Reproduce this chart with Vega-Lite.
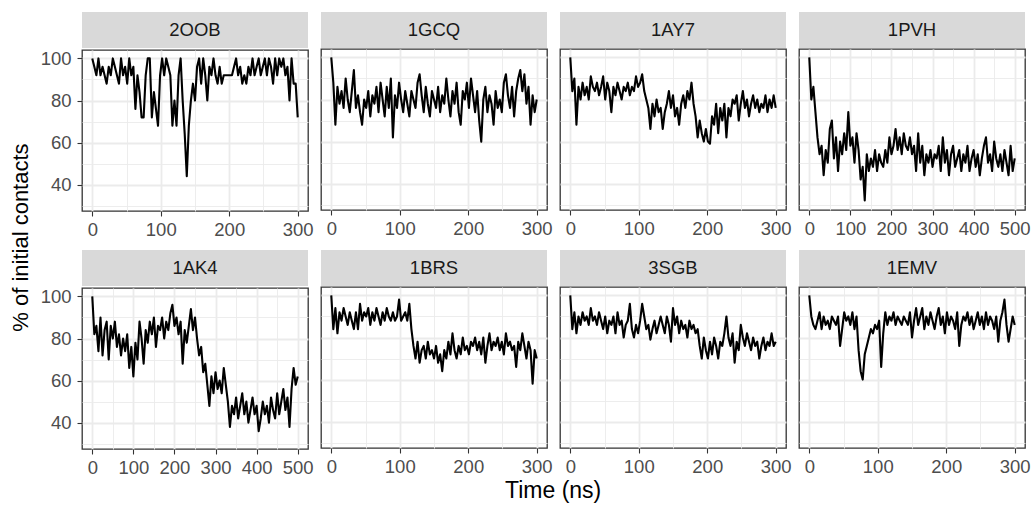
{
"$schema":"https://vega.github.io/schema/vega-lite/v6.json",
"padding":{"left":10,"top":12,"right":2,"bottom":2},
"title":{"text":"% of initial contacts","orient":"left","anchor":"middle","fontSize":22,"fontWeight":"normal","color":"#000000","offset":6,"dx":20},
"datasets":{
"d2OOB":[{"t":0,"v":100},{"t":3,"v":96},{"t":6,"v":92},{"t":9,"v":100},{"t":12,"v":92},{"t":15,"v":96},{"t":18,"v":92},{"t":21,"v":88},{"t":24,"v":96},{"t":27,"v":92},{"t":30,"v":100},{"t":33,"v":96},{"t":36,"v":92},{"t":39,"v":88},{"t":42,"v":100},{"t":45,"v":92},{"t":48,"v":96},{"t":51,"v":88},{"t":54,"v":100},{"t":57,"v":92},{"t":60,"v":96},{"t":63,"v":76},{"t":66,"v":92},{"t":69,"v":84},{"t":72,"v":72},{"t":75,"v":72},{"t":78,"v":92},{"t":81,"v":100},{"t":84,"v":100},{"t":87,"v":72},{"t":90,"v":84},{"t":93,"v":76},{"t":96,"v":68},{"t":99,"v":92},{"t":102,"v":100},{"t":105,"v":92},{"t":108,"v":100},{"t":111,"v":96},{"t":114,"v":92},{"t":117,"v":68},{"t":120,"v":80},{"t":123,"v":68},{"t":126,"v":92},{"t":129,"v":100},{"t":132,"v":80},{"t":135,"v":64},{"t":138,"v":44},{"t":141,"v":68},{"t":144,"v":80},{"t":147,"v":88},{"t":150,"v":80},{"t":153,"v":96},{"t":156,"v":100},{"t":159,"v":88},{"t":162,"v":100},{"t":165,"v":92},{"t":168,"v":80},{"t":171,"v":96},{"t":174,"v":92},{"t":177,"v":100},{"t":180,"v":92},{"t":183,"v":88},{"t":186,"v":96},{"t":189,"v":88},{"t":192,"v":92},{"t":195,"v":92},{"t":198,"v":92},{"t":201,"v":92},{"t":204,"v":92},{"t":207,"v":96},{"t":210,"v":100},{"t":213,"v":92},{"t":216,"v":96},{"t":219,"v":88},{"t":222,"v":92},{"t":225,"v":88},{"t":228,"v":96},{"t":231,"v":92},{"t":234,"v":100},{"t":237,"v":92},{"t":240,"v":96},{"t":243,"v":100},{"t":246,"v":92},{"t":249,"v":96},{"t":252,"v":100},{"t":255,"v":92},{"t":258,"v":100},{"t":261,"v":96},{"t":264,"v":88},{"t":267,"v":100},{"t":270,"v":92},{"t":273,"v":100},{"t":276,"v":96},{"t":279,"v":100},{"t":282,"v":92},{"t":285,"v":96},{"t":288,"v":80},{"t":291,"v":100},{"t":294,"v":88},{"t":297,"v":88},{"t":300,"v":72}],
"d1GCQ":[{"t":0,"v":100},{"t":3,"v":88},{"t":6,"v":68},{"t":9,"v":86},{"t":12,"v":78},{"t":15,"v":84},{"t":18,"v":76},{"t":21,"v":90},{"t":24,"v":80},{"t":27,"v":74},{"t":30,"v":84},{"t":33,"v":94},{"t":36,"v":76},{"t":39,"v":82},{"t":42,"v":74},{"t":45,"v":68},{"t":48,"v":80},{"t":51,"v":76},{"t":54,"v":84},{"t":57,"v":72},{"t":60,"v":82},{"t":63,"v":78},{"t":66,"v":86},{"t":69,"v":74},{"t":72,"v":88},{"t":75,"v":80},{"t":78,"v":72},{"t":81,"v":86},{"t":84,"v":76},{"t":87,"v":90},{"t":90,"v":62},{"t":93,"v":82},{"t":96,"v":76},{"t":99,"v":88},{"t":102,"v":80},{"t":105,"v":74},{"t":108,"v":84},{"t":111,"v":78},{"t":114,"v":72},{"t":117,"v":84},{"t":120,"v":80},{"t":123,"v":76},{"t":126,"v":88},{"t":129,"v":92},{"t":132,"v":82},{"t":135,"v":74},{"t":138,"v":86},{"t":141,"v":78},{"t":144,"v":72},{"t":147,"v":84},{"t":150,"v":80},{"t":153,"v":76},{"t":156,"v":86},{"t":159,"v":74},{"t":162,"v":82},{"t":165,"v":78},{"t":168,"v":90},{"t":171,"v":80},{"t":174,"v":72},{"t":177,"v":84},{"t":180,"v":78},{"t":183,"v":88},{"t":186,"v":74},{"t":189,"v":68},{"t":192,"v":84},{"t":195,"v":80},{"t":198,"v":88},{"t":201,"v":76},{"t":204,"v":90},{"t":207,"v":82},{"t":210,"v":74},{"t":213,"v":84},{"t":216,"v":70},{"t":219,"v":60},{"t":222,"v":80},{"t":225,"v":86},{"t":228,"v":74},{"t":231,"v":82},{"t":234,"v":78},{"t":237,"v":68},{"t":240,"v":84},{"t":243,"v":76},{"t":246,"v":80},{"t":249,"v":74},{"t":252,"v":88},{"t":255,"v":92},{"t":258,"v":82},{"t":261,"v":76},{"t":264,"v":86},{"t":267,"v":72},{"t":270,"v":84},{"t":273,"v":90},{"t":276,"v":94},{"t":279,"v":84},{"t":282,"v":92},{"t":285,"v":78},{"t":288,"v":86},{"t":291,"v":68},{"t":294,"v":82},{"t":297,"v":74},{"t":300,"v":80}],
"d1AY7":[{"t":0,"v":100},{"t":3,"v":84},{"t":6,"v":90},{"t":9,"v":68},{"t":12,"v":86},{"t":15,"v":80},{"t":18,"v":88},{"t":21,"v":82},{"t":24,"v":86},{"t":27,"v":80},{"t":30,"v":91},{"t":33,"v":86},{"t":36,"v":84},{"t":39,"v":88},{"t":42,"v":82},{"t":45,"v":86},{"t":48,"v":91},{"t":51,"v":80},{"t":54,"v":88},{"t":57,"v":84},{"t":60,"v":74},{"t":63,"v":86},{"t":66,"v":82},{"t":69,"v":88},{"t":72,"v":84},{"t":75,"v":80},{"t":78,"v":86},{"t":81,"v":84},{"t":84,"v":88},{"t":87,"v":82},{"t":90,"v":86},{"t":93,"v":84},{"t":96,"v":91},{"t":99,"v":86},{"t":102,"v":88},{"t":105,"v":92},{"t":108,"v":84},{"t":111,"v":80},{"t":114,"v":76},{"t":117,"v":66},{"t":120,"v":78},{"t":123,"v":72},{"t":126,"v":80},{"t":129,"v":74},{"t":132,"v":76},{"t":135,"v":66},{"t":138,"v":74},{"t":141,"v":78},{"t":144,"v":84},{"t":147,"v":76},{"t":150,"v":82},{"t":153,"v":72},{"t":156,"v":76},{"t":159,"v":68},{"t":162,"v":78},{"t":165,"v":82},{"t":168,"v":76},{"t":171,"v":84},{"t":174,"v":80},{"t":177,"v":88},{"t":180,"v":78},{"t":183,"v":72},{"t":186,"v":62},{"t":189,"v":70},{"t":192,"v":64},{"t":195,"v":60},{"t":198,"v":66},{"t":201,"v":60},{"t":204,"v":59},{"t":207,"v":72},{"t":210,"v":68},{"t":213,"v":78},{"t":216,"v":64},{"t":219,"v":76},{"t":222,"v":70},{"t":225,"v":78},{"t":228,"v":62},{"t":231,"v":76},{"t":234,"v":72},{"t":237,"v":80},{"t":240,"v":78},{"t":243,"v":82},{"t":246,"v":70},{"t":249,"v":78},{"t":252,"v":84},{"t":255,"v":76},{"t":258,"v":80},{"t":261,"v":72},{"t":264,"v":78},{"t":267,"v":82},{"t":270,"v":76},{"t":273,"v":80},{"t":276,"v":74},{"t":279,"v":78},{"t":282,"v":76},{"t":285,"v":82},{"t":288,"v":74},{"t":291,"v":80},{"t":294,"v":76},{"t":297,"v":82},{"t":300,"v":76}],
"d1PVH":[{"t":0,"v":100},{"t":5,"v":80},{"t":10,"v":86},{"t":15,"v":74},{"t":20,"v":62},{"t":25,"v":54},{"t":30,"v":58},{"t":35,"v":44},{"t":40,"v":56},{"t":45,"v":50},{"t":50,"v":66},{"t":55,"v":70},{"t":60,"v":52},{"t":65,"v":62},{"t":70,"v":46},{"t":75,"v":60},{"t":80,"v":54},{"t":85,"v":64},{"t":90,"v":56},{"t":95,"v":74},{"t":100,"v":58},{"t":105,"v":62},{"t":110,"v":50},{"t":115,"v":64},{"t":120,"v":56},{"t":125,"v":42},{"t":130,"v":48},{"t":135,"v":32},{"t":140,"v":54},{"t":145,"v":46},{"t":150,"v":52},{"t":155,"v":48},{"t":160,"v":56},{"t":165,"v":46},{"t":170,"v":54},{"t":175,"v":50},{"t":180,"v":48},{"t":185,"v":56},{"t":190,"v":50},{"t":195,"v":62},{"t":200,"v":54},{"t":205,"v":58},{"t":210,"v":66},{"t":215,"v":56},{"t":220,"v":62},{"t":225,"v":54},{"t":230,"v":64},{"t":235,"v":58},{"t":240,"v":56},{"t":245,"v":62},{"t":250,"v":54},{"t":255,"v":58},{"t":260,"v":46},{"t":265,"v":64},{"t":270,"v":50},{"t":275,"v":58},{"t":280,"v":44},{"t":285,"v":54},{"t":290,"v":50},{"t":295,"v":56},{"t":300,"v":48},{"t":305,"v":54},{"t":310,"v":52},{"t":315,"v":58},{"t":320,"v":46},{"t":325,"v":62},{"t":330,"v":50},{"t":335,"v":56},{"t":340,"v":44},{"t":345,"v":54},{"t":350,"v":58},{"t":355,"v":48},{"t":360,"v":52},{"t":365,"v":56},{"t":370,"v":46},{"t":375,"v":54},{"t":380,"v":50},{"t":385,"v":58},{"t":390,"v":46},{"t":395,"v":52},{"t":400,"v":56},{"t":405,"v":48},{"t":410,"v":54},{"t":415,"v":44},{"t":420,"v":52},{"t":425,"v":58},{"t":430,"v":62},{"t":435,"v":50},{"t":440,"v":54},{"t":445,"v":46},{"t":450,"v":60},{"t":455,"v":52},{"t":460,"v":48},{"t":465,"v":54},{"t":470,"v":46},{"t":475,"v":56},{"t":480,"v":50},{"t":485,"v":44},{"t":490,"v":58},{"t":495,"v":46},{"t":500,"v":52}],
"d1AK4":[{"t":0,"v":100},{"t":5,"v":82},{"t":10,"v":86},{"t":15,"v":74},{"t":20,"v":90},{"t":25,"v":72},{"t":30,"v":84},{"t":35,"v":88},{"t":40,"v":70},{"t":45,"v":86},{"t":50,"v":80},{"t":55,"v":88},{"t":60,"v":76},{"t":65,"v":82},{"t":70,"v":72},{"t":75,"v":80},{"t":80,"v":74},{"t":85,"v":82},{"t":90,"v":66},{"t":95,"v":76},{"t":100,"v":62},{"t":105,"v":78},{"t":110,"v":70},{"t":115,"v":88},{"t":120,"v":80},{"t":125,"v":68},{"t":130,"v":84},{"t":135,"v":78},{"t":140,"v":88},{"t":145,"v":82},{"t":150,"v":90},{"t":155,"v":76},{"t":160,"v":86},{"t":165,"v":84},{"t":170,"v":90},{"t":175,"v":80},{"t":180,"v":88},{"t":185,"v":84},{"t":190,"v":92},{"t":195,"v":96},{"t":200,"v":86},{"t":205,"v":90},{"t":210,"v":82},{"t":215,"v":88},{"t":220,"v":68},{"t":225,"v":84},{"t":230,"v":78},{"t":235,"v":86},{"t":240,"v":94},{"t":245,"v":84},{"t":250,"v":90},{"t":255,"v":80},{"t":260,"v":72},{"t":265,"v":76},{"t":270,"v":64},{"t":275,"v":68},{"t":280,"v":58},{"t":285,"v":48},{"t":290,"v":62},{"t":295,"v":54},{"t":300,"v":64},{"t":305,"v":56},{"t":310,"v":60},{"t":315,"v":54},{"t":320,"v":66},{"t":325,"v":58},{"t":330,"v":50},{"t":335,"v":38},{"t":340,"v":48},{"t":345,"v":44},{"t":350,"v":52},{"t":355,"v":42},{"t":360,"v":48},{"t":365,"v":54},{"t":370,"v":44},{"t":375,"v":50},{"t":380,"v":40},{"t":385,"v":46},{"t":390,"v":52},{"t":395,"v":44},{"t":400,"v":48},{"t":405,"v":36},{"t":410,"v":42},{"t":415,"v":50},{"t":420,"v":44},{"t":425,"v":48},{"t":430,"v":40},{"t":435,"v":52},{"t":440,"v":46},{"t":445,"v":42},{"t":450,"v":54},{"t":455,"v":44},{"t":460,"v":50},{"t":465,"v":56},{"t":470,"v":46},{"t":475,"v":52},{"t":480,"v":38},{"t":485,"v":56},{"t":490,"v":66},{"t":495,"v":58},{"t":500,"v":62}],
"d1BRS":[{"t":0,"v":100},{"t":3,"v":84},{"t":6,"v":94},{"t":9,"v":82},{"t":12,"v":92},{"t":15,"v":88},{"t":18,"v":94},{"t":21,"v":90},{"t":24,"v":86},{"t":27,"v":92},{"t":30,"v":88},{"t":33,"v":84},{"t":36,"v":92},{"t":39,"v":84},{"t":42,"v":96},{"t":45,"v":88},{"t":48,"v":92},{"t":51,"v":90},{"t":54,"v":94},{"t":57,"v":86},{"t":60,"v":92},{"t":63,"v":88},{"t":66,"v":94},{"t":69,"v":90},{"t":72,"v":86},{"t":75,"v":92},{"t":78,"v":88},{"t":81,"v":94},{"t":84,"v":90},{"t":87,"v":88},{"t":90,"v":92},{"t":93,"v":88},{"t":96,"v":90},{"t":99,"v":98},{"t":102,"v":88},{"t":105,"v":90},{"t":108,"v":92},{"t":111,"v":88},{"t":114,"v":96},{"t":117,"v":84},{"t":120,"v":76},{"t":123,"v":70},{"t":126,"v":78},{"t":129,"v":68},{"t":132,"v":74},{"t":135,"v":76},{"t":138,"v":70},{"t":141,"v":78},{"t":144,"v":72},{"t":147,"v":74},{"t":150,"v":70},{"t":153,"v":76},{"t":156,"v":68},{"t":159,"v":72},{"t":162,"v":64},{"t":165,"v":74},{"t":168,"v":70},{"t":171,"v":78},{"t":174,"v":72},{"t":177,"v":82},{"t":180,"v":74},{"t":183,"v":70},{"t":186,"v":76},{"t":189,"v":72},{"t":192,"v":80},{"t":195,"v":74},{"t":198,"v":76},{"t":201,"v":72},{"t":204,"v":78},{"t":207,"v":76},{"t":210,"v":80},{"t":213,"v":74},{"t":216,"v":78},{"t":219,"v":72},{"t":222,"v":80},{"t":225,"v":68},{"t":228,"v":76},{"t":231,"v":82},{"t":234,"v":74},{"t":237,"v":78},{"t":240,"v":76},{"t":243,"v":80},{"t":246,"v":74},{"t":249,"v":78},{"t":252,"v":72},{"t":255,"v":82},{"t":258,"v":76},{"t":261,"v":78},{"t":264,"v":74},{"t":267,"v":76},{"t":270,"v":66},{"t":273,"v":78},{"t":276,"v":74},{"t":279,"v":82},{"t":282,"v":76},{"t":285,"v":70},{"t":288,"v":78},{"t":291,"v":74},{"t":294,"v":58},{"t":297,"v":74},{"t":300,"v":70}],
"d3SGB":[{"t":0,"v":100},{"t":3,"v":84},{"t":6,"v":92},{"t":9,"v":82},{"t":12,"v":90},{"t":15,"v":86},{"t":18,"v":92},{"t":21,"v":88},{"t":24,"v":90},{"t":27,"v":86},{"t":30,"v":94},{"t":33,"v":88},{"t":36,"v":90},{"t":39,"v":86},{"t":42,"v":92},{"t":45,"v":88},{"t":48,"v":84},{"t":51,"v":90},{"t":54,"v":82},{"t":57,"v":88},{"t":60,"v":86},{"t":63,"v":90},{"t":66,"v":82},{"t":69,"v":92},{"t":72,"v":86},{"t":75,"v":88},{"t":78,"v":80},{"t":81,"v":86},{"t":84,"v":88},{"t":87,"v":96},{"t":90,"v":84},{"t":93,"v":80},{"t":96,"v":86},{"t":99,"v":82},{"t":102,"v":88},{"t":105,"v":96},{"t":108,"v":90},{"t":111,"v":84},{"t":114,"v":86},{"t":117,"v":79},{"t":120,"v":84},{"t":123,"v":88},{"t":126,"v":82},{"t":129,"v":86},{"t":132,"v":90},{"t":135,"v":86},{"t":138,"v":82},{"t":141,"v":90},{"t":144,"v":86},{"t":147,"v":78},{"t":150,"v":94},{"t":153,"v":86},{"t":156,"v":90},{"t":159,"v":82},{"t":162,"v":88},{"t":165,"v":84},{"t":168,"v":86},{"t":171,"v":80},{"t":174,"v":88},{"t":177,"v":84},{"t":180,"v":86},{"t":183,"v":82},{"t":186,"v":84},{"t":189,"v":76},{"t":192,"v":70},{"t":195,"v":80},{"t":198,"v":74},{"t":201,"v":70},{"t":204,"v":78},{"t":207,"v":72},{"t":210,"v":80},{"t":213,"v":76},{"t":216,"v":70},{"t":219,"v":78},{"t":222,"v":76},{"t":225,"v":82},{"t":228,"v":90},{"t":231,"v":80},{"t":234,"v":76},{"t":237,"v":82},{"t":240,"v":68},{"t":243,"v":78},{"t":246,"v":74},{"t":249,"v":86},{"t":252,"v":80},{"t":255,"v":76},{"t":258,"v":82},{"t":261,"v":78},{"t":264,"v":74},{"t":267,"v":80},{"t":270,"v":76},{"t":273,"v":78},{"t":276,"v":70},{"t":279,"v":76},{"t":282,"v":80},{"t":285,"v":74},{"t":288,"v":78},{"t":291,"v":76},{"t":294,"v":82},{"t":297,"v":76},{"t":300,"v":78}],
"d1EMV":[{"t":0,"v":100},{"t":3,"v":90},{"t":6,"v":86},{"t":9,"v":84},{"t":12,"v":88},{"t":15,"v":92},{"t":18,"v":84},{"t":21,"v":90},{"t":24,"v":86},{"t":27,"v":88},{"t":30,"v":84},{"t":33,"v":90},{"t":36,"v":88},{"t":39,"v":86},{"t":42,"v":90},{"t":45,"v":76},{"t":48,"v":84},{"t":51,"v":92},{"t":54,"v":88},{"t":57,"v":90},{"t":60,"v":86},{"t":63,"v":92},{"t":66,"v":84},{"t":69,"v":90},{"t":72,"v":74},{"t":75,"v":64},{"t":78,"v":60},{"t":81,"v":72},{"t":84,"v":76},{"t":87,"v":80},{"t":90,"v":84},{"t":93,"v":82},{"t":96,"v":86},{"t":99,"v":84},{"t":102,"v":88},{"t":105,"v":66},{"t":108,"v":82},{"t":111,"v":92},{"t":114,"v":86},{"t":117,"v":90},{"t":120,"v":88},{"t":123,"v":92},{"t":126,"v":86},{"t":129,"v":90},{"t":132,"v":88},{"t":135,"v":86},{"t":138,"v":90},{"t":141,"v":88},{"t":144,"v":86},{"t":147,"v":92},{"t":150,"v":80},{"t":153,"v":88},{"t":156,"v":94},{"t":159,"v":86},{"t":162,"v":90},{"t":165,"v":94},{"t":168,"v":84},{"t":171,"v":90},{"t":174,"v":86},{"t":177,"v":92},{"t":180,"v":88},{"t":183,"v":84},{"t":186,"v":90},{"t":189,"v":94},{"t":192,"v":86},{"t":195,"v":90},{"t":198,"v":82},{"t":201,"v":92},{"t":204,"v":86},{"t":207,"v":90},{"t":210,"v":88},{"t":213,"v":84},{"t":216,"v":92},{"t":219,"v":76},{"t":222,"v":86},{"t":225,"v":90},{"t":228,"v":88},{"t":231,"v":92},{"t":234,"v":86},{"t":237,"v":90},{"t":240,"v":84},{"t":243,"v":88},{"t":246,"v":92},{"t":249,"v":86},{"t":252,"v":90},{"t":255,"v":84},{"t":258,"v":92},{"t":261,"v":86},{"t":264,"v":90},{"t":267,"v":88},{"t":270,"v":84},{"t":273,"v":90},{"t":276,"v":78},{"t":279,"v":88},{"t":282,"v":92},{"t":285,"v":98},{"t":288,"v":86},{"t":291,"v":78},{"t":294,"v":84},{"t":297,"v":90},{"t":300,"v":86}]
},
"spacing":10,
"vconcat":[
{"spacing":6,"hconcat":[
 {"spacing":0,"vconcat":[
  {"width":226,"height":36,"data":{"values":[{"id":"2OOB"}]},"mark":{"type":"text","fontSize":18.5,"color":"#1A1A1A"},"encoding":{"text":{"field":"id"}},"view":{"fill":"#D9D9D9"}},
  {"width":226,"height":161,"data":{"name":"d2OOB"},"resolve":{"axis":{"x":"independent","y":"independent"}},"layer":[
   {"mark":{"type":"line","opacity":0},"encoding":{"x":{"field":"t","type":"quantitative","scale":{"domain":[-15,315],"nice":false,"zero":false},"axis":{"orient":"bottom","values":[50,150,250],"grid":true,"gridWidth":0.9,"labels":false,"ticks":false,"title":null}},"y":{"field":"v","type":"quantitative","scale":{"domain":[27.5,104],"nice":false,"zero":false},"axis":{"orient":"left","values":[30,50,70,90],"grid":true,"gridWidth":0.9,"labels":false,"ticks":false,"title":null}}}},
   {"mark":{"type":"line","color":"#000000","strokeWidth":2.1,"strokeJoin":"round"},"encoding":{"x":{"field":"t","type":"quantitative","axis":{"orient":"bottom","values":[0,100,200,300],"grid":true,"gridWidth":1.8,"title":null}},"y":{"field":"v","type":"quantitative","axis":{"orient":"left","values":[40,60,80,100],"grid":true,"gridWidth":1.8,"labelPadding":6,"title":null}}}}
  ]}
 ]},
 {"spacing":0,"vconcat":[
  {"width":226,"height":36,"data":{"values":[{"id":"1GCQ"}]},"mark":{"type":"text","fontSize":18.5,"color":"#1A1A1A"},"encoding":{"text":{"field":"id"}},"view":{"fill":"#D9D9D9"}},
  {"width":226,"height":161,"data":{"name":"d1GCQ"},"resolve":{"axis":{"x":"independent","y":"independent"}},"layer":[
   {"mark":{"type":"line","opacity":0},"encoding":{"x":{"field":"t","type":"quantitative","scale":{"domain":[-15,315],"nice":false,"zero":false},"axis":{"orient":"bottom","values":[50,150,250],"grid":true,"gridWidth":0.9,"labels":false,"ticks":false,"title":null}},"y":{"field":"v","type":"quantitative","scale":{"domain":[27.5,104],"nice":false,"zero":false},"axis":{"orient":"left","values":[30,50,70,90],"grid":true,"gridWidth":0.9,"labels":false,"ticks":false,"title":null}}}},
   {"mark":{"type":"line","color":"#000000","strokeWidth":2.1,"strokeJoin":"round"},"encoding":{"x":{"field":"t","type":"quantitative","axis":{"orient":"bottom","values":[0,100,200,300],"grid":true,"gridWidth":1.8,"title":null}},"y":{"field":"v","type":"quantitative","axis":{"orient":"left","values":[40,60,80,100],"grid":true,"gridWidth":1.8,"labels":false,"ticks":false,"title":null}}}}
  ]}
 ]},
 {"spacing":0,"vconcat":[
  {"width":226,"height":36,"data":{"values":[{"id":"1AY7"}]},"mark":{"type":"text","fontSize":18.5,"color":"#1A1A1A"},"encoding":{"text":{"field":"id"}},"view":{"fill":"#D9D9D9"}},
  {"width":226,"height":161,"data":{"name":"d1AY7"},"resolve":{"axis":{"x":"independent","y":"independent"}},"layer":[
   {"mark":{"type":"line","opacity":0},"encoding":{"x":{"field":"t","type":"quantitative","scale":{"domain":[-15,315],"nice":false,"zero":false},"axis":{"orient":"bottom","values":[50,150,250],"grid":true,"gridWidth":0.9,"labels":false,"ticks":false,"title":null}},"y":{"field":"v","type":"quantitative","scale":{"domain":[27.5,104],"nice":false,"zero":false},"axis":{"orient":"left","values":[30,50,70,90],"grid":true,"gridWidth":0.9,"labels":false,"ticks":false,"title":null}}}},
   {"mark":{"type":"line","color":"#000000","strokeWidth":2.1,"strokeJoin":"round"},"encoding":{"x":{"field":"t","type":"quantitative","axis":{"orient":"bottom","values":[0,100,200,300],"grid":true,"gridWidth":1.8,"title":null}},"y":{"field":"v","type":"quantitative","axis":{"orient":"left","values":[40,60,80,100],"grid":true,"gridWidth":1.8,"labels":false,"ticks":false,"title":null}}}}
  ]}
 ]},
 {"spacing":0,"vconcat":[
  {"width":226,"height":36,"data":{"values":[{"id":"1PVH"}]},"mark":{"type":"text","fontSize":18.5,"color":"#1A1A1A"},"encoding":{"text":{"field":"id"}},"view":{"fill":"#D9D9D9"}},
  {"width":226,"height":161,"data":{"name":"d1PVH"},"resolve":{"axis":{"x":"independent","y":"independent"}},"layer":[
   {"mark":{"type":"line","opacity":0},"encoding":{"x":{"field":"t","type":"quantitative","scale":{"domain":[-25,525],"nice":false,"zero":false},"axis":{"orient":"bottom","values":[50,150,250,350,450],"grid":true,"gridWidth":0.9,"labels":false,"ticks":false,"title":null}},"y":{"field":"v","type":"quantitative","scale":{"domain":[27.5,104],"nice":false,"zero":false},"axis":{"orient":"left","values":[30,50,70,90],"grid":true,"gridWidth":0.9,"labels":false,"ticks":false,"title":null}}}},
   {"mark":{"type":"line","color":"#000000","strokeWidth":2.1,"strokeJoin":"round"},"encoding":{"x":{"field":"t","type":"quantitative","axis":{"orient":"bottom","values":[0,100,200,300,400,500],"grid":true,"gridWidth":1.8,"title":null}},"y":{"field":"v","type":"quantitative","axis":{"orient":"left","values":[40,60,80,100],"grid":true,"gridWidth":1.8,"labels":false,"ticks":false,"title":null}}}}
  ]}
 ]}
]},
{"spacing":6,"hconcat":[
 {"spacing":0,"vconcat":[
  {"width":226,"height":36,"data":{"values":[{"id":"1AK4"}]},"mark":{"type":"text","fontSize":18.5,"color":"#1A1A1A"},"encoding":{"text":{"field":"id"}},"view":{"fill":"#D9D9D9"}},
  {"width":226,"height":161,"data":{"name":"d1AK4"},"resolve":{"axis":{"x":"independent","y":"independent"}},"layer":[
   {"mark":{"type":"line","opacity":0},"encoding":{"x":{"field":"t","type":"quantitative","scale":{"domain":[-25,525],"nice":false,"zero":false},"axis":{"orient":"bottom","values":[50,150,250,350,450],"grid":true,"gridWidth":0.9,"labels":false,"ticks":false,"title":null}},"y":{"field":"v","type":"quantitative","scale":{"domain":[27.5,104],"nice":false,"zero":false},"axis":{"orient":"left","values":[30,50,70,90],"grid":true,"gridWidth":0.9,"labels":false,"ticks":false,"title":null}}}},
   {"mark":{"type":"line","color":"#000000","strokeWidth":2.1,"strokeJoin":"round"},"encoding":{"x":{"field":"t","type":"quantitative","axis":{"orient":"bottom","values":[0,100,200,300,400,500],"grid":true,"gridWidth":1.8,"title":null}},"y":{"field":"v","type":"quantitative","axis":{"orient":"left","values":[40,60,80,100],"grid":true,"gridWidth":1.8,"labelPadding":6,"title":null}}}}
  ]}
 ]},
 {"spacing":0,"vconcat":[
  {"width":226,"height":36,"data":{"values":[{"id":"1BRS"}]},"mark":{"type":"text","fontSize":18.5,"color":"#1A1A1A"},"encoding":{"text":{"field":"id"}},"view":{"fill":"#D9D9D9"}},
  {"width":226,"height":161,"data":{"name":"d1BRS"},"resolve":{"axis":{"x":"independent","y":"independent"}},"layer":[
   {"mark":{"type":"line","opacity":0},"encoding":{"x":{"field":"t","type":"quantitative","scale":{"domain":[-15,315],"nice":false,"zero":false},"axis":{"orient":"bottom","values":[50,150,250],"grid":true,"gridWidth":0.9,"labels":false,"ticks":false,"title":null}},"y":{"field":"v","type":"quantitative","scale":{"domain":[27.5,104],"nice":false,"zero":false},"axis":{"orient":"left","values":[30,50,70,90],"grid":true,"gridWidth":0.9,"labels":false,"ticks":false,"title":null}}}},
   {"mark":{"type":"line","color":"#000000","strokeWidth":2.1,"strokeJoin":"round"},"encoding":{"x":{"field":"t","type":"quantitative","axis":{"orient":"bottom","values":[0,100,200,300],"grid":true,"gridWidth":1.8,"title":null}},"y":{"field":"v","type":"quantitative","axis":{"orient":"left","values":[40,60,80,100],"grid":true,"gridWidth":1.8,"labels":false,"ticks":false,"title":null}}}}
  ]}
 ]},
 {"spacing":0,"vconcat":[
  {"width":226,"height":36,"data":{"values":[{"id":"3SGB"}]},"mark":{"type":"text","fontSize":18.5,"color":"#1A1A1A"},"encoding":{"text":{"field":"id"}},"view":{"fill":"#D9D9D9"}},
  {"width":226,"height":161,"data":{"name":"d3SGB"},"resolve":{"axis":{"x":"independent","y":"independent"}},"layer":[
   {"mark":{"type":"line","opacity":0},"encoding":{"x":{"field":"t","type":"quantitative","scale":{"domain":[-15,315],"nice":false,"zero":false},"axis":{"orient":"bottom","values":[50,150,250],"grid":true,"gridWidth":0.9,"labels":false,"ticks":false,"title":null}},"y":{"field":"v","type":"quantitative","scale":{"domain":[27.5,104],"nice":false,"zero":false},"axis":{"orient":"left","values":[30,50,70,90],"grid":true,"gridWidth":0.9,"labels":false,"ticks":false,"title":null}}}},
   {"mark":{"type":"line","color":"#000000","strokeWidth":2.1,"strokeJoin":"round"},"encoding":{"x":{"field":"t","type":"quantitative","axis":{"orient":"bottom","values":[0,100,200,300],"grid":true,"gridWidth":1.8,"title":null}},"y":{"field":"v","type":"quantitative","axis":{"orient":"left","values":[40,60,80,100],"grid":true,"gridWidth":1.8,"labels":false,"ticks":false,"title":null}}}}
  ]}
 ]},
 {"spacing":0,"vconcat":[
  {"width":226,"height":36,"data":{"values":[{"id":"1EMV"}]},"mark":{"type":"text","fontSize":18.5,"color":"#1A1A1A"},"encoding":{"text":{"field":"id"}},"view":{"fill":"#D9D9D9"}},
  {"width":226,"height":161,"data":{"name":"d1EMV"},"resolve":{"axis":{"x":"independent","y":"independent"}},"layer":[
   {"mark":{"type":"line","opacity":0},"encoding":{"x":{"field":"t","type":"quantitative","scale":{"domain":[-15,315],"nice":false,"zero":false},"axis":{"orient":"bottom","values":[50,150,250],"grid":true,"gridWidth":0.9,"labels":false,"ticks":false,"title":null}},"y":{"field":"v","type":"quantitative","scale":{"domain":[27.5,104],"nice":false,"zero":false},"axis":{"orient":"left","values":[30,50,70,90],"grid":true,"gridWidth":0.9,"labels":false,"ticks":false,"title":null}}}},
   {"mark":{"type":"line","color":"#000000","strokeWidth":2.1,"strokeJoin":"round"},"encoding":{"x":{"field":"t","type":"quantitative","axis":{"orient":"bottom","values":[0,100,200,300],"grid":true,"gridWidth":1.8,"title":null}},"y":{"field":"v","type":"quantitative","axis":{"orient":"left","values":[40,60,80,100],"grid":true,"gridWidth":1.8,"labels":false,"ticks":false,"title":null}}}}
  ]}
 ]}
],"title":{"text":"Time (ns)","orient":"bottom","anchor":"middle","fontSize":23,"fontWeight":"normal","color":"#000000","offset":3,"dx":18}}
],
"config":{
 "font":"Liberation Sans",
 "view":{"stroke":"#333333","strokeWidth":1.3},
 "axis":{"domain":false,"gridColor":"#EBEBEB","tickColor":"#333333","tickSize":5,"tickWidth":1.1,"labelColor":"#4D4D4D","labelFontSize":18.5,"labelFlush":false,"labelOverlap":false,"labelPadding":4}
}
}
